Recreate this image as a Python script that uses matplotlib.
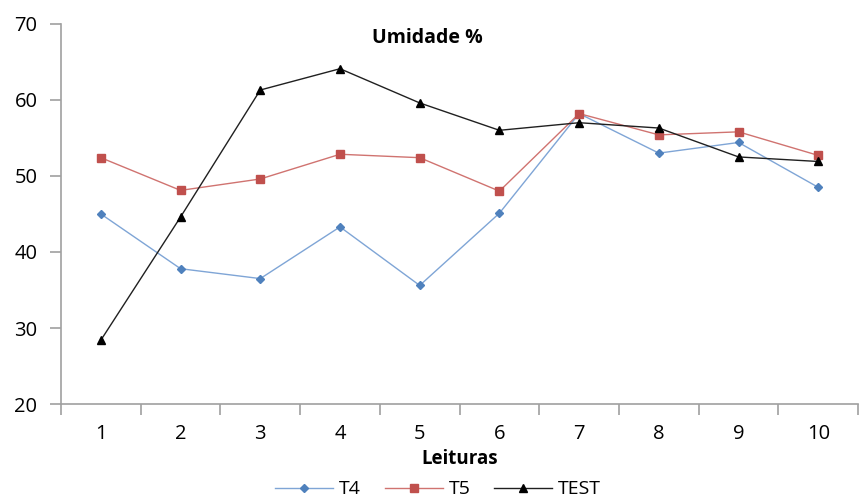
import numpy as np
import matplotlib.pyplot as plt

leituras = list(range(1, 11))
t4 = [45.0, 37.8, 36.5, 43.3, 35.6, 45.1, 58.2, 53.0, 54.4, 48.5]
t5 = [52.4, 48.1, 49.6, 52.85, 52.4, 48.0, 58.2, 55.4, 55.8, 52.7]
test = [28.4, 44.6, 61.3, 64.1, 59.6, 56.0, 57.0, 56.3, 52.5, 51.9]

plt.rcParams['font.family'] = ['Open Sans', 'DejaVu Sans']

fig = plt.figure(figsize=(8.59, 4.97), dpi=100)
ax = fig.add_axes([0.071, 0.187, 0.928, 0.765])

ax.plot(leituras, t4, color='#7FA5D6', lw=1.0, marker='D', ms=4.5,
        mfc='#4F81BD', mec='#4F81BD', label='T4')
ax.plot(leituras, t5, color='#D07370', lw=1.0, marker='s', ms=6,
        mfc='#C0504D', mec='#C0504D', label='T5')
ax.plot(leituras, test, color='#202020', lw=1.0, marker='^', ms=5.5,
        mfc='black', mec='black', label='TEST')

ax.set_xlim(0.5, 10.5)
ax.set_ylim(20, 70)
ax.set_yticks(np.arange(20, 71, 10))
ax.set_xticks(np.arange(0.5, 10.6, 1))
ax.set_xticklabels([])
ax.set_xticks(leituras, minor=True)
ax.set_xticklabels([str(i) for i in leituras], minor=True)
ax.tick_params(axis='x', which='major', length=8, color='#A0A0A0', width=1.2)
ax.tick_params(axis='x', which='minor', length=0, labelsize=14.5, pad=14)
ax.tick_params(axis='y', length=8, color='#A0A0A0', width=1.2, labelsize=14.5, pad=9)

for s in ['top', 'right']:
    ax.spines[s].set_visible(False)
for s in ['left', 'bottom']:
    ax.spines[s].set_color('#A0A0A0')
    ax.spines[s].set_linewidth(1.2)

ax.text(0.46, 0.963, 'Umidade %', transform=ax.transAxes, ha='center', va='center',
        fontsize=14, fontweight='bold')
ax.set_xlabel('Leituras', fontsize=13.5, fontweight='bold', labelpad=4)

fig.legend(loc='lower center', bbox_to_anchor=(0.51, -0.038), ncol=3, frameon=False,
           fontsize=14, handlelength=3, columnspacing=1.2, handletextpad=0.3)

fig.savefig('out.png', dpi=100)
